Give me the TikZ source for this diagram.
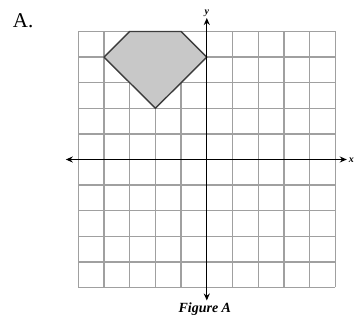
\documentclass[tikz,border=0pt]{standalone}
\usepackage{fontspec}
\setmainfont{Liberation Serif}
\usetikzlibrary{arrows.meta}
\definecolor{gridgray}{RGB}{160,160,160}
\definecolor{shapefill}{RGB}{200,200,200}
\definecolor{shapeedge}{RGB}{60,60,60}
\begin{document}
\begin{tikzpicture}[x=25.7pt,y=25.6pt,
  gridline/.style={draw=gridgray,line width=1.3pt},
  axis/.style={draw=black,line width=1.3pt,-{Stealth[length=7pt,width=6pt]}},
  polyshape/.style={fill=shapefill,draw=shapeedge,line width=1.4pt,line join=round}]
\useasboundingbox (-206.8pt,-164.5pt) rectangle (147.2pt,159.5pt);
% grid
\foreach \i in {-5,...,5} {
  \draw[gridline] (\i,-5) -- (\i,5);
  \draw[gridline] (-5,\i) -- (5,\i);
}
% polygon
\draw[polyshape] (-3,5) -- (-1,5) -- (0,4) -- (-2,2) -- (-4,4) -- cycle;
% axes
\coordinate (o) at (0,0);
\coordinate (xl) at (-141pt,0);
\coordinate (xr) at (140pt,0);
\coordinate (yt) at (0,141.5pt);
\coordinate (yb) at (0,-141pt);
\draw[axis] (o) -- (xr);
\draw[axis] (o) -- (xl);
\draw[axis] (o) -- (yt);
\draw[axis] (o) -- (yb);
\node[font=\bfseries\itshape\fontsize{10}{12}\selectfont,anchor=west,inner sep=0pt] (xlab) at (142pt,-1pt) {x};
\node[font=\bfseries\itshape\fontsize{10}{12}\selectfont,anchor=south,inner sep=0pt] (ylab) at (0,143pt) {y};
\node[font=\fontsize{21}{25}\selectfont,anchor=north west,inner sep=0pt] (lbl) at (-194pt,146.5pt) {A.};
\node[font=\bfseries\itshape\fontsize{14}{16}\selectfont,inner sep=0pt] (cap) at (-2pt,-150pt) {Figure A};
\end{tikzpicture}
\end{document}
